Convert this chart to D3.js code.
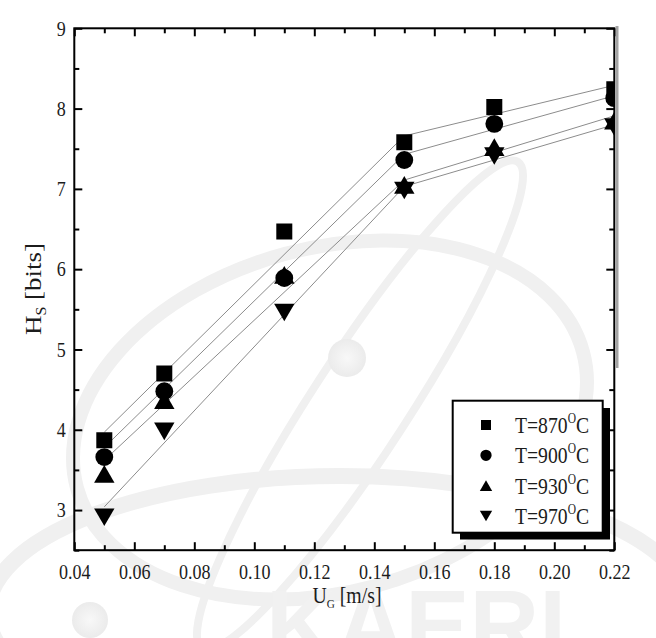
<!DOCTYPE html>
<html><head><meta charset="utf-8">
<script src="https://cdn.jsdelivr.net/npm/d3@7"></script>
<style>
body{margin:0;background:#fff}
svg{display:block}
</style>
</head><body>
<svg id="c" width="656" height="638"></svg>
<script>
// ---- data ----
const ugValues = [0.05, 0.07, 0.11, 0.15, 0.18, 0.22];
const temps = [870, 900, 930, 970];
const hs870 = [3.87, 4.70, 6.47, 7.58, 8.02, 8.24];
const hs900 = [3.66, 4.48, 5.89, 7.36, 7.81, 8.13];
const hs930 = [3.45, 4.37, 5.93, 7.05, 7.52, 7.85];
const hs970 = [2.91, 3.98, 5.46, 6.98, 7.41, 7.77];
const fitX = [0.05, 0.15, 0.22];
const fit870 = [3.97, 7.66, 8.29];
const fit900 = [3.78, 7.43, 8.16];
const fit930 = [3.62, 7.11, 7.91];
const fit970 = [3.04, 7.03, 7.80];
const xMajor = [0.04, 0.06, 0.08, 0.10, 0.12, 0.14, 0.16, 0.18, 0.20, 0.22];
const xMinor = [0.05, 0.07, 0.09, 0.11, 0.13, 0.15, 0.17, 0.19, 0.21];
const yMajor = [3, 4, 5, 6, 7, 8, 9];
const yMinor = [2.5, 3.5, 4.5, 5.5, 6.5, 7.5, 8.5];

const series = [hs870, hs900, hs930, hs970];
const fits = [fit870, fit900, fit930, fit970];

const FONT = "'Liberation Serif', Tinos, 'Times New Roman', 'DejaVu Serif', serif";
const INK = "#1c1c1c";

// ---- setup ----
const svg = d3.select("#c").attr("font-family", FONT);
const L = 74.3, R = 614.3, T = 28.3, B = 550.2;
const x = d3.scaleLinear().domain([0.04, 0.22]).range([L, R]);
const y = d3.scaleLinear().domain([2.5, 9]).range([B, T]);

svg.append("rect").attr("width", 656).attr("height", 638).attr("fill", "#fff");

// ---- faint watermark ----
const WM = "#f0f0f0";
const wm = svg.append("g").attr("fill", "none").attr("stroke", WM);
wm.append("ellipse").attr("cx", 340).attr("cy", 612).attr("rx", 352).attr("ry", 136).attr("stroke-width", 16);
wm.append("ellipse").attr("cx", 330).attr("cy", 420).attr("rx", 262).attr("ry", 172)
  .attr("transform", "rotate(-15 330 420)").attr("stroke-width", 14);
wm.append("ellipse").attr("cx", 360).attr("cy", 405).attr("rx", 290).attr("ry", 48)
  .attr("transform", "rotate(-57 360 405)").attr("stroke-width", 8);
const defs = svg.append("defs");
const grad = defs.append("radialGradient").attr("id", "nuc");
grad.append("stop").attr("offset", "0%").attr("stop-color", "#f8f8f8");
grad.append("stop").attr("offset", "100%").attr("stop-color", "#ebebeb");
svg.append("circle").attr("cx", 347).attr("cy", 358).attr("r", 19).attr("fill", "url(#nuc)");
svg.append("circle").attr("cx", 90).attr("cy", 620).attr("r", 18).attr("fill", "url(#nuc)");
svg.append("text").attr("x", 266).attr("y", 660)
  .attr("textLength", 300).attr("lengthAdjust", "spacingAndGlyphs")
  .style("font-family", "'Liberation Sans',Arimo,Arial,sans-serif").style("font-weight", "bold")
  .style("font-size", "100px").style("fill", "#f1f1f1").text("KAERI");

// ---- clip ----
defs.append("clipPath").attr("id", "plotclip")
  .append("rect").attr("x", L).attr("y", T).attr("width", R - L).attr("height", B - T);
const plot = svg.append("g").attr("clip-path", "url(#plotclip)");

// fit lines
const line = d3.line().x((d, i) => x(fitX[i])).y(d => y(d));
fits.forEach(f => {
  plot.append("path").attr("d", line(f)).attr("fill", "none")
    .attr("stroke", "#8c8c8c").attr("stroke-width", 1);
});

// symbols
const triUp = {draw(ctx, size){const w = Math.sqrt(size * 4 / Math.sqrt(3)); const h = w * Math.sqrt(3) / 2;
  ctx.moveTo(0, -h / 2); ctx.lineTo(w / 2, h / 2); ctx.lineTo(-w / 2, h / 2); ctx.closePath();}};
const triDown = {draw(ctx, size){const w = Math.sqrt(size * 4 / Math.sqrt(3)); const h = w * Math.sqrt(3) / 2;
  ctx.moveTo(0, h / 2); ctx.lineTo(w / 2, -h / 2); ctx.lineTo(-w / 2, -h / 2); ctx.closePath();}};
const shapes = [d3.symbolSquare, d3.symbolCircle, triUp, triDown];
const sizes = [256, 250, 180, 180];
const legSizes = [100, 100, 66, 66];

series.forEach((s, k) => {
  plot.selectAll(null).data(s).enter().append("path")
    .attr("transform", (d, i) => `translate(${x(ugValues[i])},${y(d)})`)
    .attr("d", d3.symbol().type(shapes[k]).size(sizes[k])())
    .attr("fill", "#000");
});

// ---- axes ----
function styleAxis(g){
  g.attr("font-family", FONT);
  g.select(".domain").remove();
  g.selectAll("line").attr("stroke", "#000").attr("stroke-width", 2);
}
function styleLabels(g){
  g.selectAll("text").attr("transform", "scale(0.86,1)")
    .style("font-family", FONT).style("font-size", "21px").attr("fill", INK);
}
const fmtX = d3.format(".2f");
const gB = svg.append("g").attr("transform", `translate(0,${B})`)
  .call(d3.axisBottom(x).tickValues(xMajor).tickSize(-8).tickPadding(14).tickFormat(fmtX));
gB.call(styleAxis).call(styleLabels);
svg.append("g").attr("transform", `translate(0,${B})`)
  .call(d3.axisBottom(x).tickValues(xMinor).tickSize(-5).tickFormat("")).call(styleAxis);

const gL = svg.append("g").attr("transform", `translate(${L},0)`)
  .call(d3.axisLeft(y).tickValues(yMajor).tickSize(-8).tickPadding(10).tickFormat(d3.format("d")));
gL.call(styleAxis).call(styleLabels);
svg.append("g").attr("transform", `translate(${L},0)`)
  .call(d3.axisLeft(y).tickValues(yMinor).tickSize(-5).tickFormat("")).call(styleAxis);

svg.append("g").attr("transform", `translate(0,${T})`)
  .call(d3.axisTop(x).tickValues(xMajor).tickSize(-8).tickFormat("")).call(styleAxis);
svg.append("g").attr("transform", `translate(0,${T})`)
  .call(d3.axisTop(x).tickValues(xMinor).tickSize(-5).tickFormat("")).call(styleAxis);
svg.append("g").attr("transform", `translate(${R},0)`)
  .call(d3.axisRight(y).tickValues(yMajor).tickSize(-8).tickFormat("")).call(styleAxis);
svg.append("g").attr("transform", `translate(${R},0)`)
  .call(d3.axisRight(y).tickValues(yMinor).tickSize(-5).tickFormat("")).call(styleAxis);

// frame
svg.append("rect").attr("x", L).attr("y", T).attr("width", R - L).attr("height", B - T)
  .attr("fill", "none").attr("stroke", "#000").attr("stroke-width", 2);
// scan artefact band at right edge
svg.append("rect").attr("x", R + 1.2).attr("y", 26).attr("width", 3).attr("height", 342).attr("fill", "#a3a3a3");

// axis titles
const xt = svg.append("text").attr("transform", "translate(347,603) scale(0.86,1)")
  .attr("text-anchor", "middle").style("font-family", FONT).style("font-size", "23px").attr("fill", INK);
xt.append("tspan").text("U");
xt.append("tspan").attr("dy", 5).style("font-size", "13px").text("G");
xt.append("tspan").attr("dy", -5).text(" [m/s]");

const yt = svg.append("text").attr("transform", "translate(41,289) rotate(-90) scale(1,0.86)")
  .attr("text-anchor", "middle").style("font-family", FONT).style("font-size", "27px").attr("fill", INK);
yt.append("tspan").text("H");
yt.append("tspan").attr("dy", 6).style("font-size", "16px").text("S");
yt.append("tspan").attr("dy", -6).text(" [bits]");

// ---- legend ----
const lg = svg.append("g");
lg.append("rect").attr("x", 460).attr("y", 408).attr("width", 150).attr("height", 131.5).attr("fill", "#000");
lg.append("rect").attr("x", 452.7).attr("y", 400.7).attr("width", 150).attr("height", 132)
  .attr("fill", "#fff").attr("stroke", "#000").attr("stroke-width", 2);
const rowY = d3.scaleLinear().domain([0, 3]).range([425, 516]);
temps.forEach((t, k) => {
  const cy = rowY(k);
  lg.append("path").attr("transform", `translate(486,${cy})`)
    .attr("d", d3.symbol().type(shapes[k]).size(legSizes[k])()).attr("fill", "#000");
  const tx = lg.append("text").attr("transform", `translate(515,${cy + 8}) scale(0.82,1)`)
    .style("font-family", FONT).style("font-size", "24px").attr("fill", INK);
  tx.append("tspan").text(`T=${t}`);
  tx.append("tspan").attr("dy", -10).style("font-size", "14px").text("O");
  tx.append("tspan").attr("dy", 10).text("C");
});
</script>
</body></html>
